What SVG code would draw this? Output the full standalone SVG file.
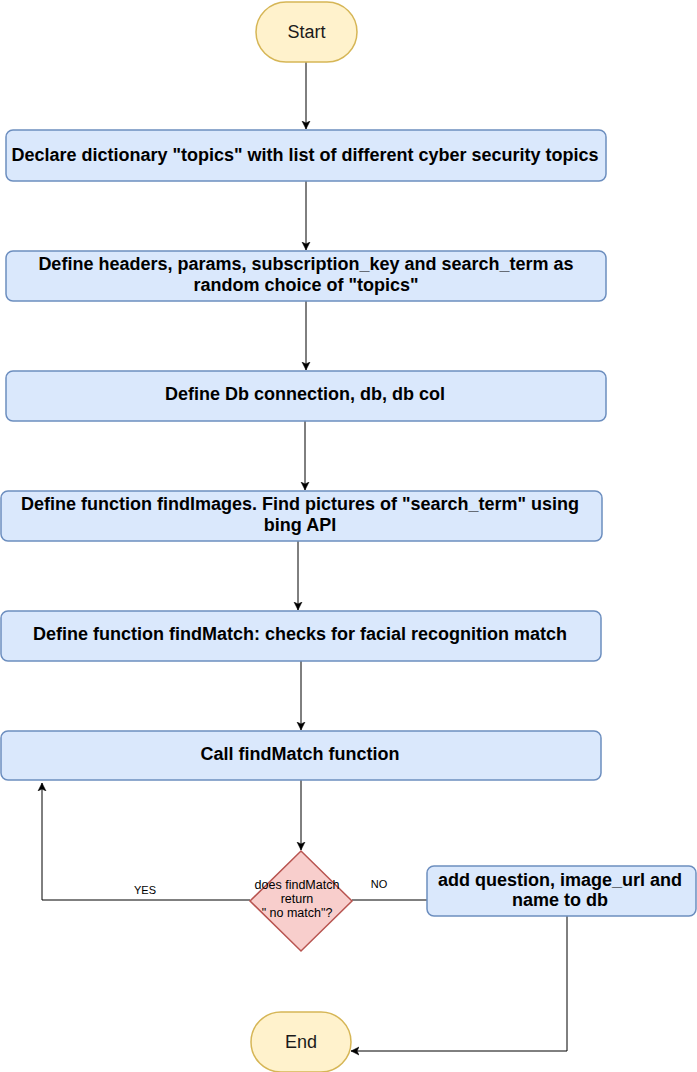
<svg xmlns="http://www.w3.org/2000/svg" width="697" height="1072" viewBox="0 0 697 1072">
<style>
.box{fill:#dae8fc;stroke:#6c8ebf;stroke-width:1.5}
.term{fill:#fff2cc;stroke:#d6b656;stroke-width:1.5}
.dec{fill:#f8cecc;stroke:#b85450;stroke-width:1.5}
.bt{font-family:"Liberation Sans",Arial,sans-serif;font-size:18px;font-weight:bold;fill:#000;text-anchor:middle}
.tt{font-family:"Liberation Sans",Arial,sans-serif;font-size:18px;fill:#1a1a1a;text-anchor:middle}
.dt{font-family:"Liberation Sans",Arial,sans-serif;font-size:12.5px;fill:#000;text-anchor:middle}
.lt{font-family:"Liberation Sans",Arial,sans-serif;font-size:11px;fill:#000;text-anchor:middle}
.c{fill:none;stroke:#000;stroke-width:1}
</style>
<defs>
<marker id="arr" markerWidth="10" markerHeight="10" refX="8" refY="5" orient="auto" markerUnits="userSpaceOnUse">
<path d="M0,1 L8,5 L0,9 L2,5 Z" fill="#000" stroke="#000" stroke-width="0.5"/>
</marker>
</defs>
<rect width="697" height="1072" fill="#fff"/>
<g id="connectors">
<path class="c" d="M306,62 V129" marker-end="url(#arr)"/>
<path class="c" d="M306,181 V250" marker-end="url(#arr)"/>
<path class="c" d="M306,301 V370" marker-end="url(#arr)"/>
<path class="c" d="M305,421 V490" marker-end="url(#arr)"/>
<path class="c" d="M298,541 V610" marker-end="url(#arr)"/>
<path class="c" d="M301,661 V730" marker-end="url(#arr)"/>
<path class="c" d="M301,780 V850" marker-end="url(#arr)"/>
<path class="c" d="M250,900 H42 V783" marker-end="url(#arr)"/>
<path class="c" d="M352,900 H427"/>
<path class="c" d="M567,916 V1051 H351" marker-end="url(#arr)"/>
<text class="lt" x="145" y="894">YES</text>
<text class="lt" x="379" y="888">NO</text>
</g>
<g id="start">
<rect class="term" x="256" y="2" width="101" height="60" rx="30" ry="30"/>
<text class="tt" x="306.5" y="38">Start</text>
</g>
<g id="declare">
<rect class="box" x="6" y="130" width="600" height="51" rx="7"/>
<text class="bt" x="305" y="161">Declare dictionary "topics" with list of different cyber security topics</text>
</g>
<g id="define-headers">
<rect class="box" x="6" y="251" width="600" height="50" rx="7"/>
<text class="bt" x="306" y="270">Define headers, params, subscription_key and search_term as</text>
<text class="bt" x="306" y="291">random choice of "topics"</text>
</g>
<g id="define-db">
<rect class="box" x="6" y="371" width="600" height="50" rx="7"/>
<text class="bt" x="305" y="400">Define Db connection, db, db col</text>
</g>
<g id="find-images">
<rect class="box" x="1" y="491" width="601" height="50" rx="7"/>
<text class="bt" x="300" y="510">Define function findImages. Find pictures of "search_term" using</text>
<text class="bt" x="300" y="531">bing API</text>
</g>
<g id="find-match">
<rect class="box" x="1" y="611" width="600" height="50" rx="7"/>
<text class="bt" x="300" y="640">Define function findMatch: checks for facial recognition match</text>
</g>
<g id="call-match">
<rect class="box" x="1" y="731" width="600" height="49" rx="7"/>
<text class="bt" x="300" y="760">Call findMatch function</text>
</g>
<g id="decision">
<path class="dec" d="M301,851 L352,901 L301,951 L250,901 Z"/>
<text class="dt" x="297" y="889">does findMatch</text>
<text class="dt" x="297" y="903">return</text>
<text class="dt" x="297" y="917">" no match"?</text>
</g>
<g id="add-db">
<rect class="box" x="427" y="866" width="269" height="50" rx="7"/>
<text class="bt" x="560" y="886">add question, image_url and</text>
<text class="bt" x="560" y="906">name to db</text>
</g>
<g id="end">
<rect class="term" x="251" y="1012" width="100" height="60" rx="30" ry="30"/>
<text class="tt" x="301" y="1048">End</text>
</g>
</svg>
